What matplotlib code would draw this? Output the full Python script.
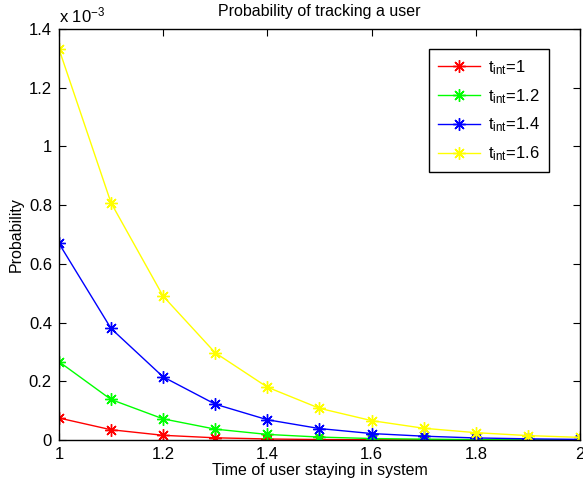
import matplotlib
matplotlib.use("Agg")
import matplotlib.pyplot as plt
from matplotlib.ticker import FuncFormatter

plt.rcParams['font.family'] = ['Liberation Sans', 'DejaVu Sans']
plt.rcParams['mathtext.fontset'] = 'custom'
plt.rcParams['mathtext.rm'] = 'Liberation Sans'
plt.rcParams['mathtext.it'] = 'Liberation Sans'

time = [1.0, 1.1, 1.2, 1.3, 1.4, 1.5, 1.6, 1.7, 1.8, 1.9, 2.0]
# probabilities, in units of 1e-3
p_t1 = [0.075, 0.035, 0.016, 0.0075, 0.0035, 0.0016, 0.0008, 0.0004, 0.0002, 0.0001, 0.00004]
p_t12 = [0.267, 0.138, 0.072, 0.037, 0.019, 0.010, 0.005, 0.003, 0.0014, 0.0007, 0.0004]
p_t14 = [0.670, 0.380, 0.215, 0.122, 0.069, 0.039, 0.022, 0.013, 0.007, 0.004, 0.002]
p_t16 = [1.333, 0.808, 0.490, 0.297, 0.180, 0.108, 0.066, 0.040, 0.025, 0.015, 0.009]
labels = ['1', '1.2', '1.4', '1.6']
colors = ['#ff0000', '#00ff00', '#0000ff', '#ffff00']

fig = plt.figure(figsize=(5.83, 4.87), dpi=100)
ax = fig.add_axes([0.101, 0.0965, 0.894, 0.844])

for vals, lab, c in zip([p_t1, p_t12, p_t14, p_t16], labels, colors):
    ax.plot(time, [v * 1e-3 for v in vals], color=c, marker=(8, 2, 0), markersize=9,
            markeredgewidth=1, linewidth=1, label=r'$\mathregular{t_{int}}$=' + lab)

ax.set_xlim(1, 2)
ax.set_ylim(0, 1.4e-3)
ax.set_xticks([1, 1.2, 1.4, 1.6, 1.8, 2])
ax.set_xticklabels(['1', '1.2', '1.4', '1.6', '1.8', '2'])
ax.set_yticks([i * 0.2e-3 for i in range(8)])
ax.yaxis.set_major_formatter(FuncFormatter(lambda v, p: '%g' % round(v * 1e3, 3)))
ax.tick_params(direction='in', top=True, right=True, labelsize=12, length=5, pad=5)
for s in ax.spines.values():
    s.set_linewidth(1)

ax.text(0, 1.008, r'x 10$^{-3}$', transform=ax.transAxes, fontsize=12, va='bottom')
ax.set_title('Probability of tracking a user', fontsize=11.5, pad=9)
ax.set_xlabel('Time of user staying in system', fontsize=11.5, labelpad=1)
ax.set_ylabel('Probability', fontsize=11.5, labelpad=4)

leg = ax.legend(loc='upper right', bbox_to_anchor=(0.9405, 0.951), borderaxespad=0,
                fontsize=12, fancybox=False, edgecolor='black', framealpha=1,
                handlelength=2.5, handletextpad=0.5, labelspacing=0.6, borderpad=0.55)
leg.get_frame().set_linewidth(1)

fig.savefig('out.png', dpi=100)
